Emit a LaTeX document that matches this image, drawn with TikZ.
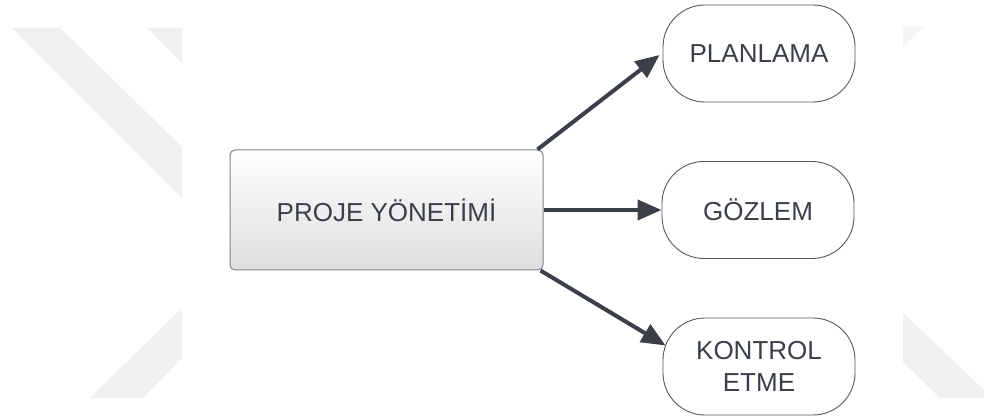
\documentclass[tikz,border=0pt]{standalone}
\usepackage{fontspec}
\setmainfont{Liberation Sans}
\usetikzlibrary{arrows.meta}
\definecolor{ink}{HTML}{3B4048}
\definecolor{wm}{HTML}{F0F0F0}
\definecolor{boxline}{HTML}{80858B}
\definecolor{boxbottom}{HTML}{DEDEDE}
\definecolor{pillline}{HTML}{555A61}
\tikzset{
  mainbox/.style={draw=boxline, line width=1pt, rounded corners=5pt,
    top color=white, bottom color=boxbottom,
    minimum width=313pt, minimum height=120pt, inner sep=0pt,
    text=ink, font=\fontsize{26}{32}\selectfont},
  pill/.style={draw=pillline, line width=0.9pt, rounded corners=42pt, fill=white,
    minimum width=192pt, minimum height=97pt, inner sep=0pt, align=center,
    text=ink, font=\fontsize{26}{32}\selectfont},
  arr/.style={draw=ink, line width=4pt, -{Triangle[length=24pt,width=20pt]}}
}
\begin{document}
\begin{tikzpicture}[x=1pt,y=-1pt]
\useasboundingbox (0,0) rectangle (984,419);
\fill[white] (0,0) rectangle (984,419);
% faint background bands
\fill[wm] (12,28) -- (60,28) -- (182,147) -- (182,198) -- cycle;
\fill[wm] (147,28) -- (182,28) -- (182,63) -- cycle;
\fill[wm] (182,308) -- (182,358) -- (143,398) -- (90,398) -- cycle;
\fill[wm!70!white] (903,27) -- (923,27) -- (903,47) -- cycle;
\fill[wm] (903,313) -- (984,390) -- (984,398) -- (940,398) -- (903,362) -- cycle;
% nodes
\node[mainbox] (main) at (386.5,210) {PROJE YÖNETİMİ};
\node[pill] (plan) at (759,53.5) {PLANLAMA};
\node[pill] (gozlem) at (758,210) {GÖZLEM};
\node[pill] (kontrol) at (759,366.5) {KONTROL\\ETME};
% connectors
\draw[arr] ([xshift=-6pt]main.north east) -- ([xshift=-3pt,yshift=-1.5pt]plan.west);
\draw[arr] (main.east) -- (gozlem.west);
\draw[arr] ([xshift=-3pt]main.south east) -- ([xshift=3pt,yshift=21pt]kontrol.west);
\end{tikzpicture}
\end{document}
